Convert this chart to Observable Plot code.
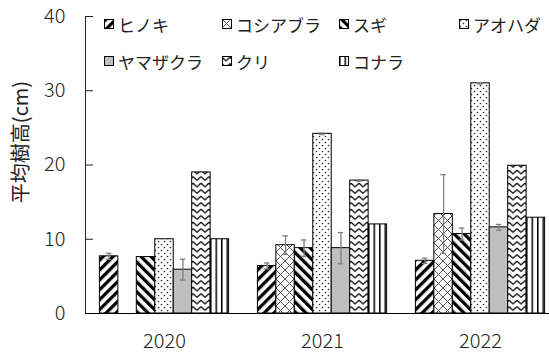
<!DOCTYPE html>
<html>
<head>
<meta charset="utf-8">
<script src="https://cdn.jsdelivr.net/npm/d3@7"></script>
<script src="https://cdn.jsdelivr.net/npm/@observablehq/plot@0.6"></script>
<style>
  html, body { margin: 0; padding: 0; background: #fff; }
  #wrap { position: relative; width: 549px; height: 356px; overflow: hidden; font-family: "Noto Sans CJK JP", "Noto Sans", sans-serif; color: #222; }
  #defs { position: absolute; width: 0; height: 0; }
  #legend { position: absolute; left: 104px; top: 6px; display: grid; grid-template-columns: 118px 117px 120px auto; grid-auto-rows: 37px; font-size: 17px; font-weight: 400; }
  #legend .item { display: flex; align-items: center; white-space: nowrap; }
  #legend svg { margin-right: 3px; }
  #ylabel { position: absolute; left: 19px; top: 142px; transform: translate(-50%, -50%) rotate(-90deg); font-size: 20px; font-weight: 400; white-space: nowrap; }
</style>
</head>
<body>
<div id="wrap">
<svg id="defs" width="0" height="0">
  <defs>
    <pattern id="p-hinoki" patternUnits="userSpaceOnUse" width="7" height="7" patternTransform="rotate(45)">
      <rect width="7" height="7" fill="#fff"/><rect width="3.3" height="7" fill="#000"/>
    </pattern>
    <pattern id="p-koshi" patternUnits="userSpaceOnUse" width="9" height="9">
      <rect width="9" height="9" fill="#fff"/><path d="M0,0L9,9M9,0L0,9" stroke="#555" stroke-width="1"/>
    </pattern>
    <pattern id="p-sugi" patternUnits="userSpaceOnUse" width="7" height="7" patternTransform="rotate(-45)">
      <rect width="7" height="7" fill="#fff"/><rect width="3.3" height="7" fill="#000"/>
    </pattern>
    <pattern id="p-aohada" patternUnits="userSpaceOnUse" width="6" height="6">
      <rect width="6" height="6" fill="#fff"/><circle cx="1.5" cy="1.5" r="0.85" fill="#333"/><circle cx="4.5" cy="4.5" r="0.85" fill="#333"/>
    </pattern>
    <pattern id="p-yama" patternUnits="userSpaceOnUse" width="4" height="4">
      <rect width="4" height="4" fill="#bfbfbf"/>
    </pattern>
    <pattern id="p-kuri" patternUnits="userSpaceOnUse" width="8" height="6.5">
      <rect width="8" height="6.5" fill="#fff"/><path d="M0,1.2L4,4.8L8,1.2" fill="none" stroke="#000" stroke-width="1.3"/>
    </pattern>
    <pattern id="p-konara" patternUnits="userSpaceOnUse" width="5.5" height="5">
      <rect width="5.5" height="5" fill="#fff"/><rect x="0" width="1.5" height="5" fill="#000"/>
    </pattern>
  </defs>
</svg>
<div id="chart"></div>
<div id="ylabel">平均樹高(cm)</div>
<div id="legend"></div>
</div>
<script>
// ---- data ----
const years = ["2020", "2021", "2022"];
const species = ["ヒノキ", "コシアブラ", "スギ", "アオハダ", "ヤマザクラ", "クリ", "コナラ"];
const legendOrder = ["ヒノキ", "コシアブラ", "スギ", "アオハダ", "ヤマザクラ", "クリ", "コナラ"];
const patterns = ["p-hinoki", "p-koshi", "p-sugi", "p-aohada", "p-yama", "p-kuri", "p-konara"];

// mean height (cm) per species, by year
const hinoki    = [7.7, 6.4, 7.1];
const koshiabura = [null, 9.2, 13.4];
const sugi      = [7.6, 8.8, 10.7];
const aohada    = [10.0, 24.2, 31.0];
const yamazakura = [5.9, 8.8, 11.6];
const kuri      = [19.0, 17.9, 19.9];
const konara    = [10.0, 12.0, 12.9];

// error (± cm)
const hinokiErr    = [0.4, 0.4, 0.35];
const koshiaburaErr = [null, 1.25, 5.3];
const sugiErr      = [null, 1.1, 0.8];
const aohadaErr    = [null, 0.1, 0.1];
const yamazakuraErr = [1.4, 2.1, 0.4];
const kuriErr      = [null, 0.1, null];
const konaraErr    = [null, null, null];

const yTicks = [0, 10, 20, 30, 40];

const values = [hinoki, koshiabura, sugi, aohada, yamazakura, kuri, konara];
const errors = [hinokiErr, koshiaburaErr, sugiErr, aohadaErr, yamazakuraErr, kuriErr, konaraErr];

const rows = [];
years.forEach((yr, i) => species.forEach((sp, j) => {
  const v = values[j][i];
  if (v != null) rows.push({year: yr, species: sp, value: v, err: errors[j][i], pat: `url(#${patterns[j]})`});
}));
const errRows = rows.filter(d => d.err != null).map(d => ({...d, lo: d.value - d.err, hi: d.value + d.err}));

const chart = Plot.plot({
  width: 549,
  height: 356,
  marginLeft: 84,
  marginRight: -10,
  marginTop: 16,
  marginBottom: 43,
  style: {fontFamily: '"Noto Sans CJK JP", "Noto Sans", sans-serif', fontSize: "20px", fontWeight: 300, color: "#222", background: "transparent"},
  fx: {domain: years, padding: 0, label: null, axis: "bottom", tickSize: 0, tickPadding: 20},
  x: {domain: species, paddingInner: 0, paddingOuter: 0.78, axis: null, round: false},
  y: {domain: [0, 40], ticks: yTicks, tickSize: -8, tickPadding: 28, line: true, label: null, tickFormat: d => String(d)},
  color: {type: "identity"},
  marks: [
    Plot.barY(rows, {fx: "year", x: "species", y: "value", fill: "pat", stroke: "#000", strokeWidth: 1}),
    Plot.ruleX(errRows, {fx: "year", x: "species", y1: "lo", y2: "hi", stroke: "#7f7f7f", strokeWidth: 1.3}),
    Plot.tickY(errRows, {fx: "year", x: "species", y: "lo", insetLeft: 6.5, insetRight: 6.5, stroke: "#7f7f7f", strokeWidth: 1.3}),
    Plot.tickY(errRows, {fx: "year", x: "species", y: "hi", insetLeft: 6.5, insetRight: 6.5, stroke: "#7f7f7f", strokeWidth: 1.3}),
    Plot.ruleY([0], {stroke: "#000", strokeWidth: 1.2})
  ]
});
document.getElementById("chart").appendChild(chart);

// legend
const legend = document.getElementById("legend");
legendOrder.forEach((sp, k) => {
  const j = species.indexOf(sp);
  const item = document.createElement("div");
  item.className = "item";
  if (sp === "コナラ") item.style.gridColumn = "3";
  item.innerHTML = `<svg width="11" height="11"><rect x="0.5" y="0.5" width="9" height="9" fill="url(#${patterns[j]})" stroke="#000" stroke-width="1"/></svg><span>${sp}</span>`;
  legend.appendChild(item);
});
</script>
</body>
</html>
